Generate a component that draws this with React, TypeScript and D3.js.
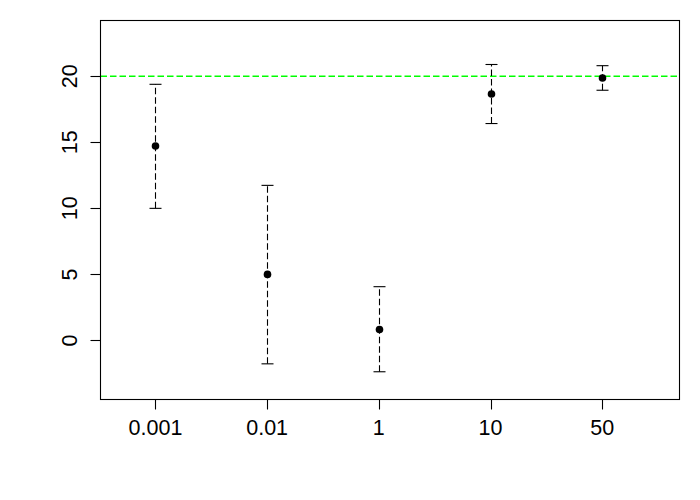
import React from "react";
import * as d3 from "d3";

const categories = ["0.001", "0.01", "1", "10", "50"];
const means = [14.72, 5.0, 0.83, 18.66, 19.87];
const lower = [10.0, -1.77, -2.37, 16.42, 18.94];
const upper = [19.39, 11.74, 4.07, 20.89, 20.8];
const yTicks = [0, 5, 10, 15, 20];
const refLine = 20;

const W = 700, H = 500;
const L = 100.5, R = 679.5, T = 20.5, B = 399.5;

export default function App() {
  const x = d3.scaleLinear().domain([0.508, 5.692]).range([L, R]);
  const y = d3.scaleLinear().domain([-4.47, 24.22]).range([B, T]);
  const font = "Liberation Sans, Arial, sans-serif";
  const fs = 21.5;
  return (
    <svg width={W} height={H} style={{ position: "absolute", left: 0, top: 0, background: "#fff" }}>
      <rect x={0} y={0} width={W} height={H} fill="#fff" />
      <line x1={L} x2={R} y1={y(refLine)} y2={y(refLine)} stroke="#00ff00" strokeWidth={1.3} strokeDasharray="6.5,3" />
      {categories.map((c, i) => {
        const cx = Math.round(x(i + 1)) + 0.5;
        return (
          <g key={c}>
            <line x1={cx} x2={cx} y1={y(lower[i])} y2={y(upper[i])} stroke="#000" strokeWidth={1.1} strokeDasharray="6.5,3" />
            <line x1={cx - 6} x2={cx + 6} y1={y(upper[i])} y2={y(upper[i])} stroke="#000" strokeWidth={1.1} />
            <line x1={cx - 6} x2={cx + 6} y1={y(lower[i])} y2={y(lower[i])} stroke="#000" strokeWidth={1.1} />
            <circle cx={cx} cy={y(means[i])} r={3.8} fill="#000" />
          </g>
        );
      })}
      <rect x={L} y={T} width={R - L} height={B - T} fill="none" stroke="#000" strokeWidth={1.1} />
      {categories.map((c, i) => (
        <g key={"x" + c}>
          <line x1={Math.round(x(i + 1)) + 0.5} x2={Math.round(x(i + 1)) + 0.5} y1={B} y2={B + 10} stroke="#000" strokeWidth={1.1} />
          <text x={x(i + 1)} y={435} textAnchor="middle" fontFamily={font} fontSize={fs} fill="#000">{c}</text>
        </g>
      ))}
      {yTicks.map((t) => {
        const yy = Math.round(y(t)) + 0.5;
        return (
          <g key={"y" + t}>
            <line x1={L - 10} x2={L} y1={yy} y2={yy} stroke="#000" strokeWidth={1.1} />
            <text transform={`translate(77,${y(t)}) rotate(-90)`} textAnchor="middle" fontFamily={font} fontSize={fs} fill="#000">{t}</text>
          </g>
        );
      })}
    </svg>
  );
}
